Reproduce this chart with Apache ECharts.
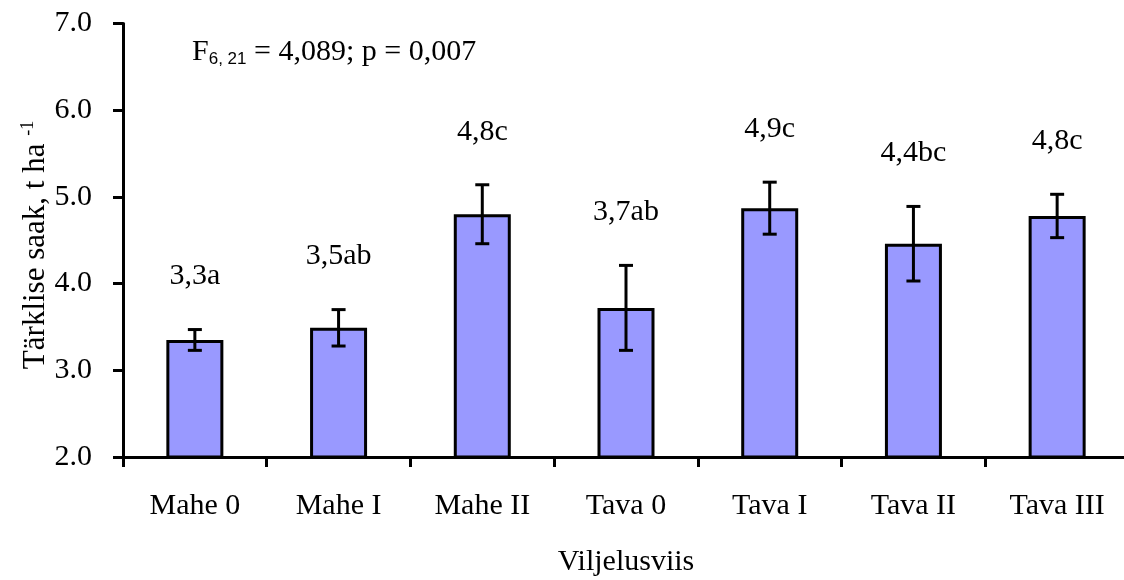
<!DOCTYPE html>
<html>
<head>
<meta charset="utf-8">
<script src="https://cdn.jsdelivr.net/npm/echarts@6/dist/echarts.min.js"></script>
<style>
html,body{margin:0;padding:0;background:#fff;}
#chart{width:1124px;height:580px;}
</style>
</head>
<body>
<div id="chart"></div>
<script>
const categories = ['Mahe 0', 'Mahe I', 'Mahe II', 'Tava 0', 'Tava I', 'Tava II', 'Tava III'];
const means = [3.35, 3.49, 4.80, 3.72, 4.87, 4.46, 4.78];
const errors = [0.12, 0.21, 0.34, 0.49, 0.30, 0.43, 0.25];
const groupLabels = ['3,3a', '3,5ab', '4,8c', '3,7ab', '4,9c', '4,4bc', '4,8c'];
const yTicks = [2, 3, 4, 5, 6, 7];

const serif = '"Liberation Serif", "Times New Roman", serif';
const chart = echarts.init(document.getElementById('chart'));

const errData = means.map((m, i) => [i, m - errors[i], m + errors[i], groupLabels[i]]);

chart.setOption({
  animation: false,
  backgroundColor: '#fff',
  grid: { left: 123, top: 23.5, width: 1006, height: 433.5, outerBoundsMode: 'none', containLabel: false },
  graphic: [{
    type: 'text',
    left: 192, top: 37,
    style: {
      text: '{f|F}{s|6, 21}{f| = 4,089; p = 0,007}',
      rich: {
        f: { fontFamily: serif, fontSize: 30, fill: '#000' },
        s: { fontFamily: '"Liberation Sans", Arial, sans-serif', fontSize: 17, fill: '#000', padding: [14, 0, 0, 0] }
      }
    }
  }, {
    type: 'text',
    x: 36, y: 245,
    rotation: Math.PI / 2,
    style: {
      text: '{m|Tärklise saak, t ha }{s|-1}',
      align: 'center', verticalAlign: 'middle',
      rich: {
        m: { fontFamily: serif, fontSize: 31, fill: '#000' },
        s: { fontFamily: serif, fontSize: 18, fill: '#000', padding: [0, 0, 16, 0] }
      }
    }
  }],
  xAxis: {
    type: 'category',
    data: categories,
    name: 'Viljelusviis',
    nameLocation: 'middle',
    nameGap: 90,
    nameTextStyle: { fontFamily: serif, fontSize: 30, color: '#000' },
    axisLine: { lineStyle: { color: '#000', width: 3 } },
    axisTick: { show: true, alignWithLabel: false, length: 10, lineStyle: { color: '#000', width: 3 } },
    axisLabel: { fontFamily: serif, fontSize: 30, color: '#000', margin: 34 },
    splitLine: { show: false }
  },
  yAxis: {
    type: 'value',
    min: 2, max: 7, interval: 1,
    axisLine: { show: true, lineStyle: { color: '#000', width: 3 } },
    axisTick: { show: true, length: 10, lineStyle: { color: '#000', width: 3 } },
    axisLabel: {
      fontFamily: serif, fontSize: 30, color: '#000', margin: 31,
      formatter: v => yTicks.includes(v) ? v.toFixed(1) : ''
    },
    splitLine: { show: false }
  },
  series: [{
    type: 'bar',
    data: means,
    barWidth: 57,
    itemStyle: { color: '#9999FF', borderColor: '#000', borderWidth: 3 },
    z: 2
  }, {
    type: 'custom',
    data: errData,
    z: 3,
    renderItem: function (params, api) {
      const x = api.value(0);
      const lo = api.coord([x, api.value(1)]);
      const hi = api.coord([x, api.value(2)]);
      const cap = 7;
      const st = { stroke: '#000', lineWidth: 3 };
      return {
        type: 'group',
        children: [
          { type: 'line', shape: { x1: lo[0], y1: lo[1], x2: hi[0], y2: hi[1] }, style: st },
          { type: 'line', shape: { x1: lo[0] - cap, y1: lo[1], x2: lo[0] + cap, y2: lo[1] }, style: st },
          { type: 'line', shape: { x1: hi[0] - cap, y1: hi[1], x2: hi[0] + cap, y2: hi[1] }, style: st },
          { type: 'text', x: hi[0], y: hi[1] - 53, style: {
              text: api.value(3), fontFamily: serif, fontSize: 30, fill: '#000',
              align: 'center', verticalAlign: 'middle' } }
        ]
      };
    }
  }]
});
</script>
</body>
</html>
